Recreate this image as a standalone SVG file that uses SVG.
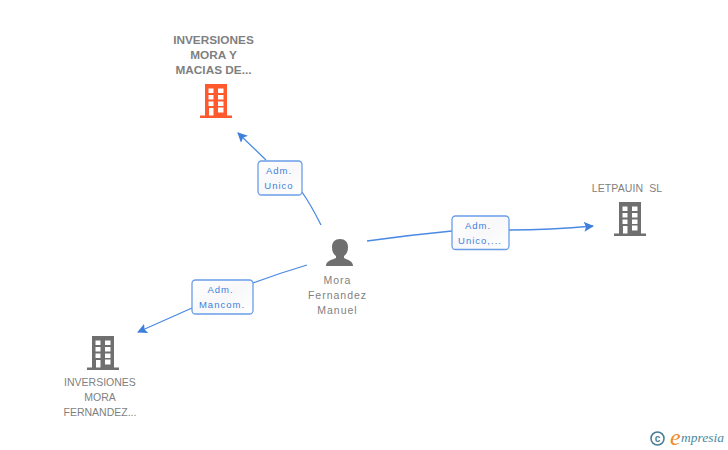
<svg xmlns="http://www.w3.org/2000/svg" xmlns:xlink="http://www.w3.org/1999/xlink" width="728" height="450" viewBox="0 0 728 450">
<style>
text{font-family:"Liberation Sans",Arial,sans-serif}
.n{font-size:10.5px;fill:#7f7f7f;text-anchor:middle}
.nb{font-size:11.8px;fill:#7f7f7f;text-anchor:middle;font-weight:bold}
.l{font-size:9.5px;fill:#3f7fdc;text-anchor:middle;letter-spacing:1px}
.c{fill:none;stroke:#4a8ae4;stroke-width:1.3}
.b{fill:url(#g);stroke:#6a9de8;stroke-width:1.3}
</style>
<defs>
<linearGradient id="g" x1="0" y1="0" x2="1" y2="1"><stop offset="0" stop-color="#fff"/><stop offset="0.5" stop-color="#f8f8fa"/><stop offset="1" stop-color="#fff"/></linearGradient>
<marker id="a" markerWidth="12" markerHeight="12" refX="9" refY="5" orient="auto" markerUnits="userSpaceOnUse"><path d="M0 0L10 5L0 10L2 5Z" fill="#3f7fdc"/></marker>
<g id="bld">
<path fill-rule="evenodd" d="M5 0H27V31.500H32V34H0V31.500H5ZM8.500 4.500V9H13.500V4.500ZM18 4.500V9H23.500V4.500ZM8.500 11V15.500H13.500V11ZM18 11V15.500H23.500V11ZM8.500 17.500V22H13.500V17.500ZM18 17.500V22H23.500V17.500ZM9 24V31.500H13.500V24ZM18 23.500V28.500H23.500V23.500Z"/>
</g>
</defs>
<g id="connectors">
<path class="c" marker-end="url(#a)" d="M321 225Q311 205 302 192M266 160L238 133"/>
<path class="c" marker-end="url(#a)" d="M367 241Q410 235 452 231M509 230Q550 230 593 226"/>
<path class="c" marker-end="url(#a)" d="M307 265Q280 273 253 283M192 308L138 332"/>
</g>
<g id="node-macias">
<text class="nb" x="213.500" y="44">INVERSIONES</text>
<text class="nb" x="213.500" y="59">MORA Y</text>
<text class="nb" x="213.500" y="74">MACIAS DE...</text>
<use xlink:href="#bld" href="#bld" x="200" y="84" fill="#ff5a2e"/>
</g>
<g id="node-letpauin">
<text class="n" x="627" y="192" letter-spacing="0.1" style="white-space:pre">LETPAUIN  SL</text>
<use xlink:href="#bld" href="#bld" x="614" y="202" fill="#6f6f6f"/>
</g>
<g id="node-fernandez">
<use xlink:href="#bld" href="#bld" x="87" y="336" fill="#6f6f6f"/>
<text class="n" x="100" y="386">INVERSIONES</text>
<text class="n" x="100" y="401">MORA</text>
<text class="n" x="100" y="416">FERNANDEZ...</text>
</g>
<g id="node-mora">
<path fill="#6f6f6f" d="M340 239C345 239 348 242 348 247C348 251 347 254 344 256V258C348 260 353 261 353 266H326C326 261 331 260 336 258V256C333 254 332 251 332 247C332 242 335 239 340 239Z"/>
<g style="letter-spacing:1px"><text class="n" x="337.500" y="284">Mora</text>
<text class="n" x="337.500" y="299">Fernandez</text>
<text class="n" x="337.500" y="314">Manuel</text></g>
</g>
<g id="label-unico">
<rect class="b" x="258" y="161" width="44" height="34" rx="3.500"/>
<text class="l" x="279" y="174">Adm.</text>
<text class="l" x="279" y="189">Unico</text>
</g>
<g id="label-unico2">
<rect class="b" x="452" y="216" width="57" height="33.500" rx="3.500"/>
<text class="l" x="478" y="229">Adm.</text>
<text class="l" x="480" y="244">Unico,...</text>
</g>
<g id="label-mancom">
<rect class="b" x="192" y="280" width="61" height="34" rx="3.500"/>
<text class="l" x="220.500" y="293">Adm.</text>
<text class="l" x="222" y="308">Mancom.</text>
</g>
<g id="logo">
<circle cx="657.500" cy="438.500" r="6.500" fill="none" stroke="#4a7f95" stroke-width="1.600"/>
<text x="657.500" y="442" font-size="10" font-weight="bold" fill="#4a7f95" text-anchor="middle">c</text>
<text x="670" y="445" font-size="24" fill="#f08a1e" font-style="italic" style="font-family:'Liberation Serif',serif">e</text>
<text x="681" y="442" font-size="13.500" fill="#4a8a9f" font-style="italic" style="font-family:'Liberation Serif',serif">mpresia</text>
</g>
</svg>
